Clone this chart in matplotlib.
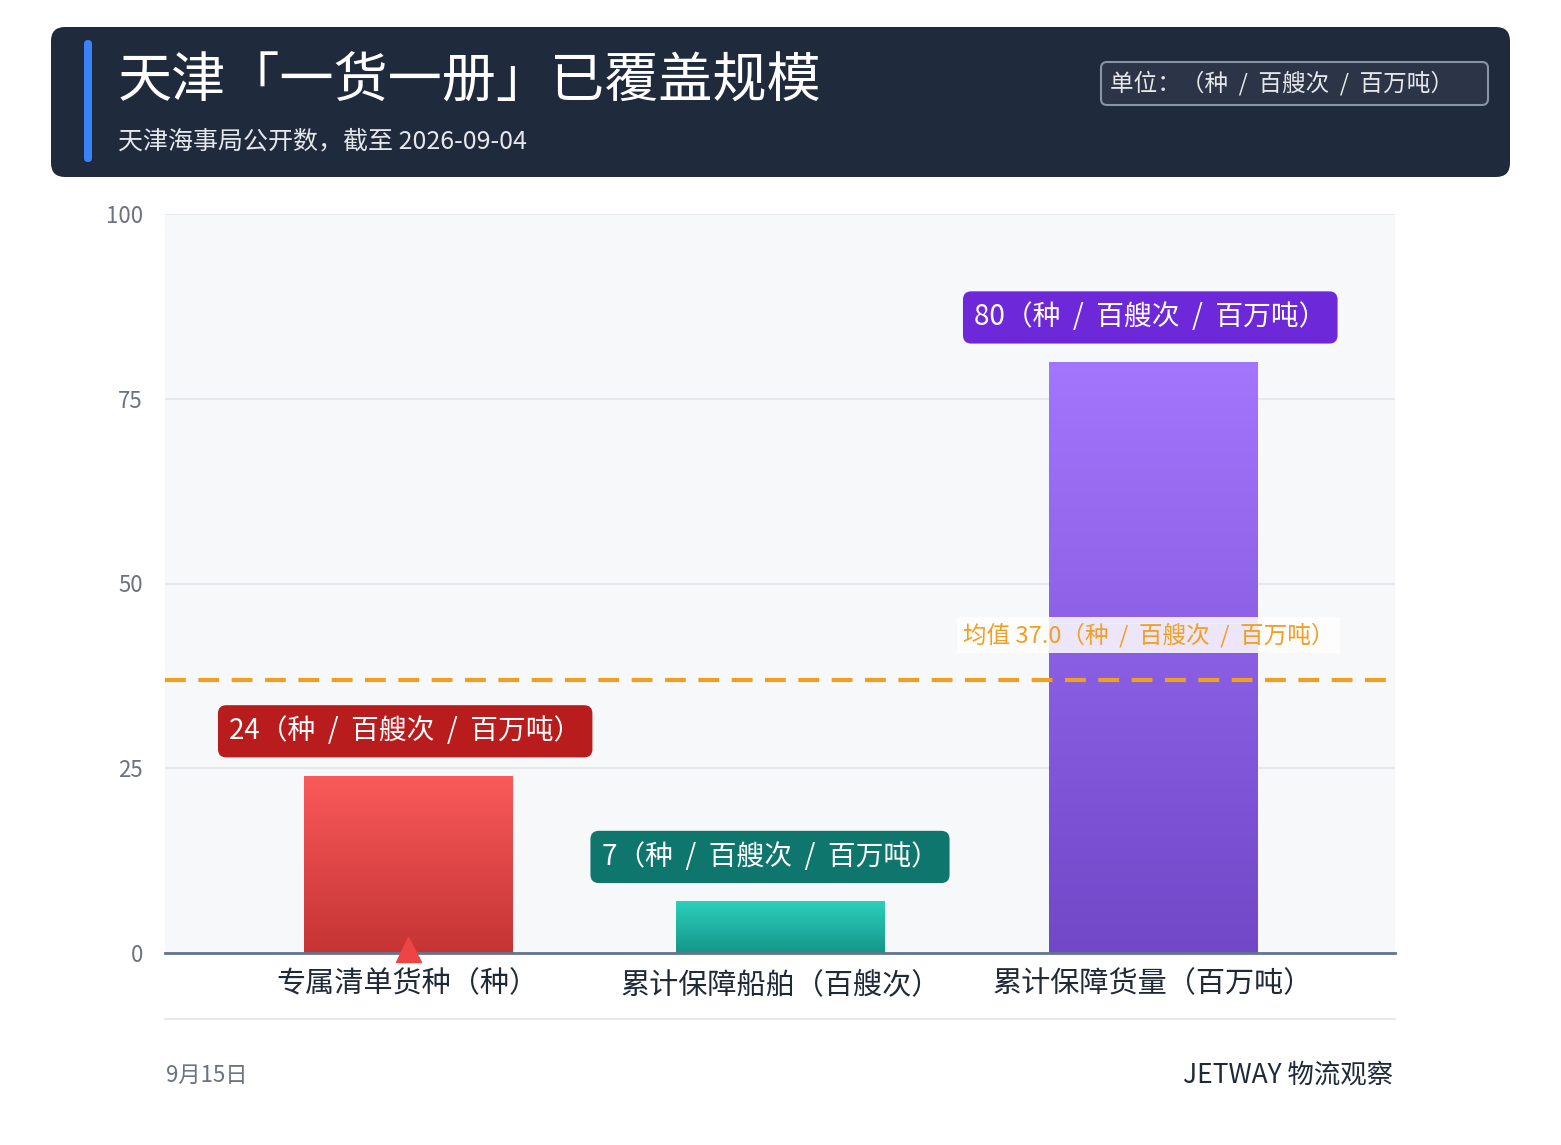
import matplotlib
matplotlib.use("Agg")
import matplotlib.pyplot as plt
import numpy as np
from matplotlib.patches import FancyBboxPatch
from matplotlib.colors import LinearSegmentedColormap

plt.rcParams['font.family'] = ['Noto Sans CJK SC', 'DejaVu Sans']

categories = ["专属清单货种（种）", "累计保障船舶（百艘次）", "累计保障货量（百万吨）"]
values = [24, 7, 80]
unit = "（种 / 百艘次 / 百万吨）"
mean_val = 37.0
top_colors = ["#fa5a5a", "#2ccfbb", "#a475fd"]
bot_colors = ["#c53434", "#14968a", "#7148c8"]
label_colors = ["#b91c1c", "#0f766e", "#6d28d9"]

W, H = 1561, 1145
fig = plt.figure(figsize=(W/100, H/100), dpi=100)
fig.patch.set_facecolor("white")

def fx(px): return px / W
def fy(py): return 1 - py / H

def wide(s):
    return s.replace(" / ", "  /  ")

hdr = fig.add_axes([0, 0, 1, 1], zorder=0)
hdr.set_xlim(0, W); hdr.set_ylim(H, 0); hdr.axis("off")
hdr.add_patch(FancyBboxPatch((51, 27), 1459, 150, boxstyle="round,pad=0,rounding_size=14",
                             fc="#1f2a3c", ec="none"))
hdr.add_patch(FancyBboxPatch((84, 40), 8, 122, boxstyle="round,pad=0,rounding_size=4",
                             fc="#3b82f6", ec="none"))
hdr.text(118, 82, "天津「一货一册」已覆盖规模", color="white", fontsize=39, va="center", ha="left")
hdr.text(118, 141, "天津海事局公开数，截至 2026-09-04", color="#e5e7eb", fontsize=18, va="center", ha="left")
hdr.add_patch(FancyBboxPatch((1101, 62), 387, 43, boxstyle="round,pad=0,rounding_size=6",
                             fc="#2b3547", ec="#8a94a6", lw=1.5))
hdr.text(1110, 83, "单位：" + wide("（种 / 百艘次 / 百万吨）"), color="#e5e7eb", fontsize=17,
         va="center", ha="left")
hdr.plot([165, 1395], [1019, 1019], color="#e2e5ea", lw=1.2)
hdr.text(166, 1075, "9月15日", color="#6b7280", fontsize=16, va="center", ha="left")
hdr.text(1393, 1075, "JETWAY 物流观察", color="#1f2937", fontsize=19, va="center", ha="right")

ax = fig.add_axes([fx(165), fy(953), fx(1395-165), (953-214)/H], zorder=1)
ax.set_facecolor("#f7f8fa")
ax.set_yticks([0, 25, 50, 75, 100])
ax.tick_params(axis="y", length=0, labelsize=16, labelcolor="#6b7280", pad=16)
ax.tick_params(axis="x", length=0, labelsize=21, labelcolor="#1f2937", pad=12)
ax.set_xticks(range(3))
ax.set_xticklabels(categories)
ax.grid(axis="y", color="#e2e5ea", lw=1.2)
ax.set_axisbelow(True)
for s in ["top", "right", "left"]:
    ax.spines[s].set_visible(False)
ax.spines["bottom"].set_color("#64748b")
ax.spines["bottom"].set_linewidth(2)

bw = 0.56
bars = ax.bar(range(3), values, width=bw, color="none", zorder=2)
grad = np.linspace(0, 1, 256).reshape(-1, 1)
for i, b in enumerate(bars):
    cmap = LinearSegmentedColormap.from_list("g", [bot_colors[i], top_colors[i]])
    x0 = b.get_x(); h = b.get_height()
    im = ax.imshow(grad, extent=[x0, x0 + bw, 0, h], origin="lower", cmap=cmap,
                   aspect="auto", zorder=2)
    im.set_clip_path(b)
    ax.text(i - bw/2 - 0.2, h + 6, f"{values[i]}" + wide(unit), color="white", fontsize=20,
            va="center", ha="left", zorder=5,
            bbox=dict(boxstyle="round,pad=0.4,rounding_size=0.3", fc=label_colors[i], ec="none"))
ax.set_xlim(-0.652, 2.65); ax.set_ylim(0, 100)

ax.axhline(mean_val, color="#f0a020", lw=3, ls=(0, (5, 3)), zorder=4)
ax.text(2 - bw/2 - 0.23, mean_val + 6, f"均值 {mean_val:.1f}" + wide(unit), color="#f0a020",
        fontsize=17, va="center", ha="left", zorder=5,
        bbox=dict(boxstyle="square,pad=0.25", fc="white", ec="none", alpha=0.85))
ax.plot([0], [0.5], marker="^", color="#ef4444", markersize=18, clip_on=False, zorder=6)

fig.savefig("out.png", dpi=100)
